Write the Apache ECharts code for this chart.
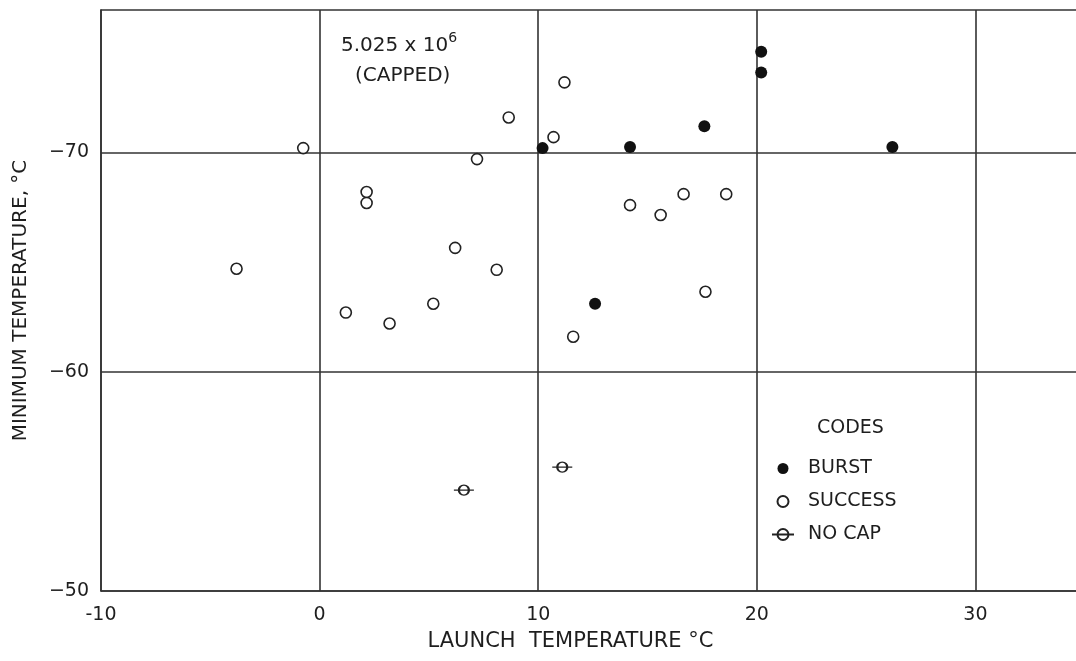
<!DOCTYPE html>
<html><head><meta charset="utf-8">
<script src="https://cdn.jsdelivr.net/npm/echarts@6/dist/echarts.min.js"></script>
<style>html,body{margin:0;padding:0;background:#fff}#c{width:1076px;height:661px}</style>
</head><body><div id="c"></div>
<script>
// Tick values
const xTicks = [-10, 0, 10, 20, 30];
const yTicks = [-70, -60, -50];
// Series values: [launch temperature °C, minimum temperature °C]
const burst = [[10.2,-70.2],[14.2,-70.25],[17.6,-71.2],[20.2,-74.6],[20.2,-73.65],[26.2,-70.25],[12.6,-63.1]];
const success = [[-0.75,-70.2],[8.65,-71.6],[7.2,-69.7],[2.15,-68.2],[2.15,-67.7],[6.2,-65.65],[-3.8,-64.7],[8.1,-64.65],[5.2,-63.1],[1.2,-62.7],[3.2,-62.2],[11.2,-73.2],[10.7,-70.7],[14.2,-67.6],[15.6,-67.15],[16.65,-68.1],[18.6,-68.1],[17.65,-63.65],[11.6,-61.6]];
const noCap = [[6.6,-54.6],[11.1,-55.65]];
const seriesNames = ['BURST', 'SUCCESS', 'NO CAP'];

const FONT = 'DejaVu Sans';
const INK = '#1e1e1e';
const LINE = {color: '#333', width: 1.6};
const noCapPath = 'path://M0,5 L20,5 M15,5 A5,5 0 1 1 5,5 A5,5 0 1 1 15,5 Z';

const chart = echarts.init(document.getElementById('c'), null, {renderer: 'canvas'});
chart.setOption({
  animation: false,
  backgroundColor: '#fff',
  grid: {left: 101, right: 0, top: 10, bottom: 70, containLabel: false},
  xAxis: [{
    type: 'value', min: -10, max: 34.6,
    axisLine: {show: true, onZero: false, lineStyle: LINE},
    axisTick: {show: false, customValues: xTicks},
    splitLine: {show: true, lineStyle: LINE},
    axisLabel: {
      customValues: xTicks, margin: 15, fontSize: 19, fontFamily: FONT, color: INK,
      formatter: v => String(v)
    },
    name: 'LAUNCH  TEMPERATURE °C', nameLocation: 'middle', nameGap: 40,
    nameTextStyle: {fontSize: 21, fontFamily: FONT, color: INK, padding: [0, 36, 0, 0]}
  }, {
    type: 'value', position: 'top', min: -10, max: 34.6,
    axisLine: {show: true, onZero: false, lineStyle: LINE},
    axisTick: {show: false}, axisLabel: {show: false}, splitLine: {show: false}
  }],
  yAxis: {
    type: 'value', inverse: true, min: -76.5, max: -50,
    axisLine: {show: true, onZero: false, lineStyle: LINE},
    axisTick: {show: false, customValues: yTicks},
    splitLine: {show: true, lineStyle: LINE},
    axisLabel: {
      customValues: yTicks, margin: 12, fontSize: 19, fontFamily: FONT, color: INK,
      formatter: v => '−' + Math.abs(v)
    },
    name: 'MINIMUM TEMPERATURE, °C', nameLocation: 'middle', nameGap: 70, nameRotate: 90,
    nameTextStyle: {fontSize: 20, fontFamily: FONT, color: INK}
  },
  legend: {
    orient: 'vertical', left: 766, top: 454, itemWidth: 24, itemHeight: 11, itemGap: 14,
    selectedMode: false,
    data: seriesNames,
    textStyle: {fontSize: 19, fontFamily: FONT, color: INK, padding: [0, 0, 0, 8]}
  },
  graphic: [
    {type: 'text', left: 817, top: 419, style: {text: 'CODES', font: '19px "DejaVu Sans"', fill: INK}},
    {type: 'text', left: 341, top: 31, style: {
      text: '{a|5.025 x 10}{s|6}\n{b|(CAPPED)}',
      rich: {
        a: {font: '20px "DejaVu Sans"', fill: INK, lineHeight: 30},
        s: {font: '14px "DejaVu Sans"', fill: INK, verticalAlign: 'top', lineHeight: 30},
        b: {font: '20px "DejaVu Sans"', fill: INK, lineHeight: 30, padding: [0, 0, 0, 14]}
      }
    }}
  ],
  series: [
    {name: seriesNames[0], type: 'scatter', data: burst, symbol: 'circle', symbolSize: 12,
     itemStyle: {color: '#111', opacity: 1}},
    {name: seriesNames[1], type: 'scatter', data: success, symbol: 'circle', symbolSize: 11,
     itemStyle: {color: '#fff', borderColor: '#222', borderWidth: 1.6, opacity: 1}},
    {name: seriesNames[2], type: 'scatter', data: noCap, symbol: noCapPath, symbolSize: [20, 10],
     itemStyle: {color: 'rgba(0,0,0,0)', borderColor: '#222', borderWidth: 1.6, opacity: 1}}
  ]
});
</script></body></html>
